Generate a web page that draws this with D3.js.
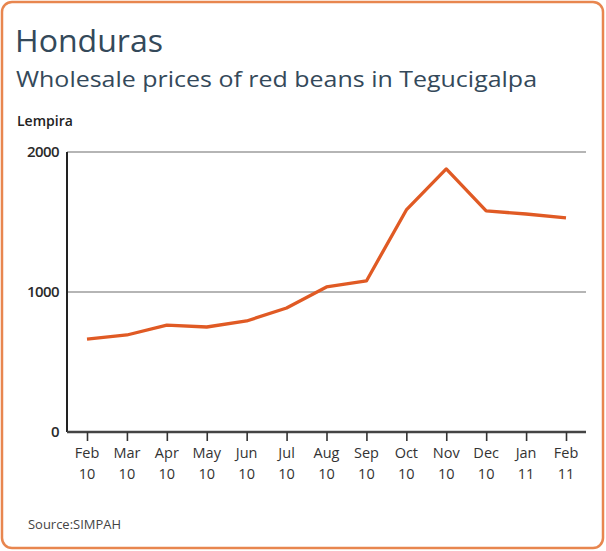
<!DOCTYPE html>
<html lang="en">
<head>
    <meta charset="UTF-8">
    <title>Honduras red beans prices</title>
    <style>
        body {
            margin: 0;
            padding: 0;
            background: #fff;
            font-family: "Open Sans", Arial, sans-serif;
        }
        svg text {
            fill: #34495a;
        }
    </style>
</head>
<body>
<svg id="chart" width="606" height="551"></svg>

<script src="https://d3js.org/d3.v7.min.js"></script>
<script>
    // month labels (two lines) and wholesale price in lempira
    var months = ["Feb", "Mar", "Apr", "May", "Jun", "Jul", "Aug", "Sep", "Oct", "Nov", "Dec", "Jan", "Feb"];
    var years = ["10", "10", "10", "10", "10", "10", "10", "10", "10", "10", "10", "11", "11"];
    var prices = [664, 693, 764, 750, 793, 886, 1036, 1079, 1586, 1879, 1579, 1557, 1529];
    var yTicks = [0, 1000, 2000];

    var svg = d3.select("#chart");

    // orange frame
    svg.append("rect")
        .attr("x", 2).attr("y", 2)
        .attr("width", 601).attr("height", 546)
        .attr("rx", 10)
        .attr("fill", "#fff")
        .attr("stroke", "#e8864f")
        .attr("stroke-width", 2.5);

    svg.append("text").attr("x", 15).attr("y", 52)
        .attr("font-size", 31)
        .attr("textLength", 148).attr("lengthAdjust", "spacingAndGlyphs")
        .text("Honduras");
    svg.append("text").attr("x", 16).attr("y", 87)
        .attr("font-size", 22.5)
        .attr("textLength", 521).attr("lengthAdjust", "spacingAndGlyphs")
        .text("Wholesale prices of red beans in Tegucigalpa");
    svg.append("text").attr("x", 17).attr("y", 126)
        .attr("font-size", 14).attr("font-weight", 600)
        .style("fill", "#222").text("Lempira");
    svg.append("text").attr("x", 28).attr("y", 529)
        .attr("font-size", 12)
        .attr("textLength", 93).attr("lengthAdjust", "spacingAndGlyphs")
        .style("fill", "#444").text("Source:SIMPAH");

    var plotL = 67, plotR = 586, plotT = 152, plotB = 432;

    var x = d3.scalePoint()
        .domain(d3.range(months.length))
        .range([87, 566]);

    var y = d3.scaleLinear()
        .domain([0, 2000])
        .range([plotB, plotT]);

    // gridlines
    svg.append("g")
        .selectAll("line")
        .data(yTicks.filter(d => d > 0))
        .enter().append("line")
        .attr("x1", plotL).attr("x2", plotR)
        .attr("y1", d => y(d)).attr("y2", d => y(d))
        .attr("stroke", "#b5b5b5")
        .attr("stroke-width", 2);

    // y labels
    svg.append("g")
        .selectAll("text")
        .data(yTicks)
        .enter().append("text")
        .attr("x", 59)
        .attr("y", d => y(d) + 5)
        .attr("text-anchor", "end")
        .attr("font-size", 15)
        .attr("font-weight", 600)
        .attr("letter-spacing", -0.6)
        .style("fill", "#2a2a2a")
        .text(d => d);

    // axes
    svg.append("line")
        .attr("x1", plotL).attr("x2", plotL)
        .attr("y1", plotT).attr("y2", plotB)
        .attr("stroke", "#222").attr("stroke-width", 2);

    var xAxis = svg.append("g")
        .attr("transform", "translate(0," + plotB + ")")
        .call(d3.axisBottom(x).tickSize(9).tickFormat(""));
    xAxis.select(".domain")
        .attr("d", "M" + plotL + ",0H" + plotR)
        .attr("stroke", "#444")
        .attr("stroke-width", 2.5);
    xAxis.selectAll(".tick line")
        .attr("stroke", "#333")
        .attr("stroke-width", 1.6);

    var labels = svg.append("g")
        .selectAll("text")
        .data(months)
        .enter().append("text")
        .attr("text-anchor", "middle")
        .attr("font-size", 14.5)
        .style("fill", "#333")
        .attr("transform", (d, i) => "translate(" + x(i) + ",0)");
    labels.append("tspan").attr("x", 0).attr("y", 458).text(d => d);
    labels.append("tspan").attr("x", 0).attr("y", 479).text((d, i) => years[i]);

    // price line
    var line = d3.line()
        .x((d, i) => x(i))
        .y(d => y(d));

    svg.append("path")
        .datum(prices)
        .attr("d", line)
        .attr("fill", "none")
        .attr("stroke", "#e05a24")
        .attr("stroke-width", 3.3)
        .attr("stroke-linejoin", "round");
</script>
</body>
</html>
